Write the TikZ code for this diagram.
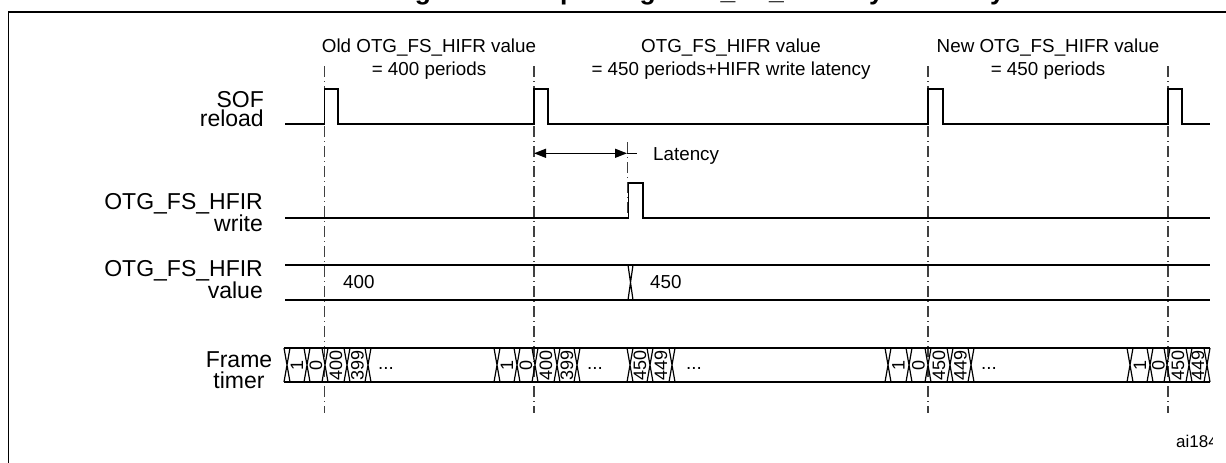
\documentclass[tikz,border=0pt]{standalone}
\usepackage{fontspec}
\setmainfont{Liberation Sans}
\usetikzlibrary{arrows.meta}
\begin{document}
\begin{tikzpicture}[x=1pt,y=-1pt,
  sig/.style={line width=1.6pt, line join=miter},
  xing/.style={line width=1.2pt},
  guide/.style={line width=1.3pt, color=black!75, dash pattern=on 11pt off 4pt on 1pt off 4pt},
  lbl/.style={font=\fontsize{23}{23}\selectfont, inner sep=0pt},
  ann/.style={font=\fontsize{18.8}{22}\selectfont, inner sep=0pt},
  cell/.style={font=\fontsize{18}{18}\selectfont, inner sep=0pt, rotate=90},
  dots/.style={font=\fontsize{18.8}{22}\selectfont, inner sep=0pt, anchor=base},
  >={Triangle[length=12pt,width=9pt]},
]
\useasboundingbox (0,0) rectangle (1226,463);

% title (mostly outside the page, only descenders visible)
\node[font=\bfseries\fontsize{26.5}{30}\selectfont, anchor=base west, inner sep=0pt] (title) at (391,-1) {Figure 231. Updating OTG\_FS\_HFIR dynamically};

% frame
\draw[line width=1.8pt] (8.5,470) -- (8.5,12) -- (1232,12);

% guide lines
\foreach \x/\n in {324.5/g1,534/g2,928/g3,1168/g4}{
  \coordinate (\n top) at (\x,66);
  \coordinate (\n bot) at (\x,413);
  \draw[guide] (\n top) -- (\n bot);
}

% annotations
\node[ann, anchor=base] (a1) at (429,52) {Old OTG\_FS\_HIFR value};
\node[ann, anchor=base] (a1b) at (429,75) {= 400 periods};
\node[ann, anchor=base] (a2) at (731,52) {OTG\_FS\_HIFR value};
\node[ann, anchor=base] (a2b) at (731,75) {= 450 periods+HIFR write latency};
\node[ann, anchor=base] (a3) at (1048,52) {New OTG\_FS\_HIFR value};
\node[ann, anchor=base] (a3b) at (1048,75) {= 450 periods};

% labels
\node[lbl, anchor=base east] (sof1) at (264,107) {SOF};
\node[lbl, anchor=base east] (sof2) at (264,126.5) {reload};
\node[lbl, anchor=base east] (wr1) at (263,209) {OTG\_FS\_HFIR};
\node[lbl, anchor=base east] (wr2) at (263,231) {write};
\node[lbl, anchor=base east] (va1) at (263,276) {OTG\_FS\_HFIR};
\node[lbl, anchor=base east] (va2) at (263,298) {value};
\node[lbl, anchor=base] (ft1) at (239,367) {Frame};
\node[lbl, anchor=base] (ft2) at (239,388) {timer};

% SOF reload
\draw[sig] (285,124) -- (324.5,124) -- (324.5,89) -- (338,89) -- (338,124)
  -- (534,124) -- (534,89) -- (548,89) -- (548,124)
  -- (928,124) -- (928,89) -- (943,89) -- (943,124)
  -- (1168,124) -- (1168,89) -- (1182,89) -- (1182,124) -- (1210,124);

% latency
\coordinate (la) at (534,153.3);
\coordinate (lb) at (627,153.3);
\coordinate (lc) at (637,153.3);
\coordinate (lt) at (627,142);
\coordinate (lw) at (627,218);
\draw[guide, line width=1pt] (lt) -- (lw);
\draw[line width=1.3pt, <->] (la) -- (lb);
\draw[line width=1.3pt] (lb) -- (lc);
\node[ann, anchor=base west] (lat) at (653,160) {Latency};

% write
\draw[sig] (285,218) -- (628.5,218) -- (628.5,183) -- (643,183) -- (643,218) -- (1210,218);

% value bus
\draw[sig] (285,265) -- (1210,265);
\draw[sig] (285,300) -- (1210,300);
\draw[xing] (628,265) -- (633,300) (633,265) -- (628,300);
\node[ann, anchor=west] (v400) at (343,282.5) {400};
\node[ann, anchor=west] (v450) at (650,282.5) {450};

% frame timer bus
\draw[sig] (284,348) -- (1210,348);
\draw[sig] (284,382) -- (1210,382);
\foreach \c in {287,307,325,347,368,497,517,535,557,577,630,650,672,888,909,928,950,971,1130,1150,1167,1189,1207}{
  \draw[xing] (\c-3,348) -- (\c+3,382) (\c-3,382) -- (\c+3,348);
}
\foreach \x/\t in {297/1,316/0,336/400,357.5/399,507/1,526/0,546/400,567/399,640/450,661/449,898.5/1,918.5/0,939/450,960.5/449,1140/1,1158.5/0,1178/450,1198/449}{
  \node[cell] at (\x,365) {\t};
}
\node[dots] (d1) at (386,369) {...};
\node[dots] (d2) at (595,369) {...};
\node[dots] (d3) at (694,369) {...};
\node[dots] (d4) at (989,369) {...};

% figure code, cut at the right
\begin{scope}
\clip (1100,420) rectangle (1212,463);
\node[font=\fontsize{17}{17}\selectfont, anchor=base west, inner sep=0pt] (ai) at (1176,447) {ai184};
\end{scope}
\end{tikzpicture}
\end{document}
